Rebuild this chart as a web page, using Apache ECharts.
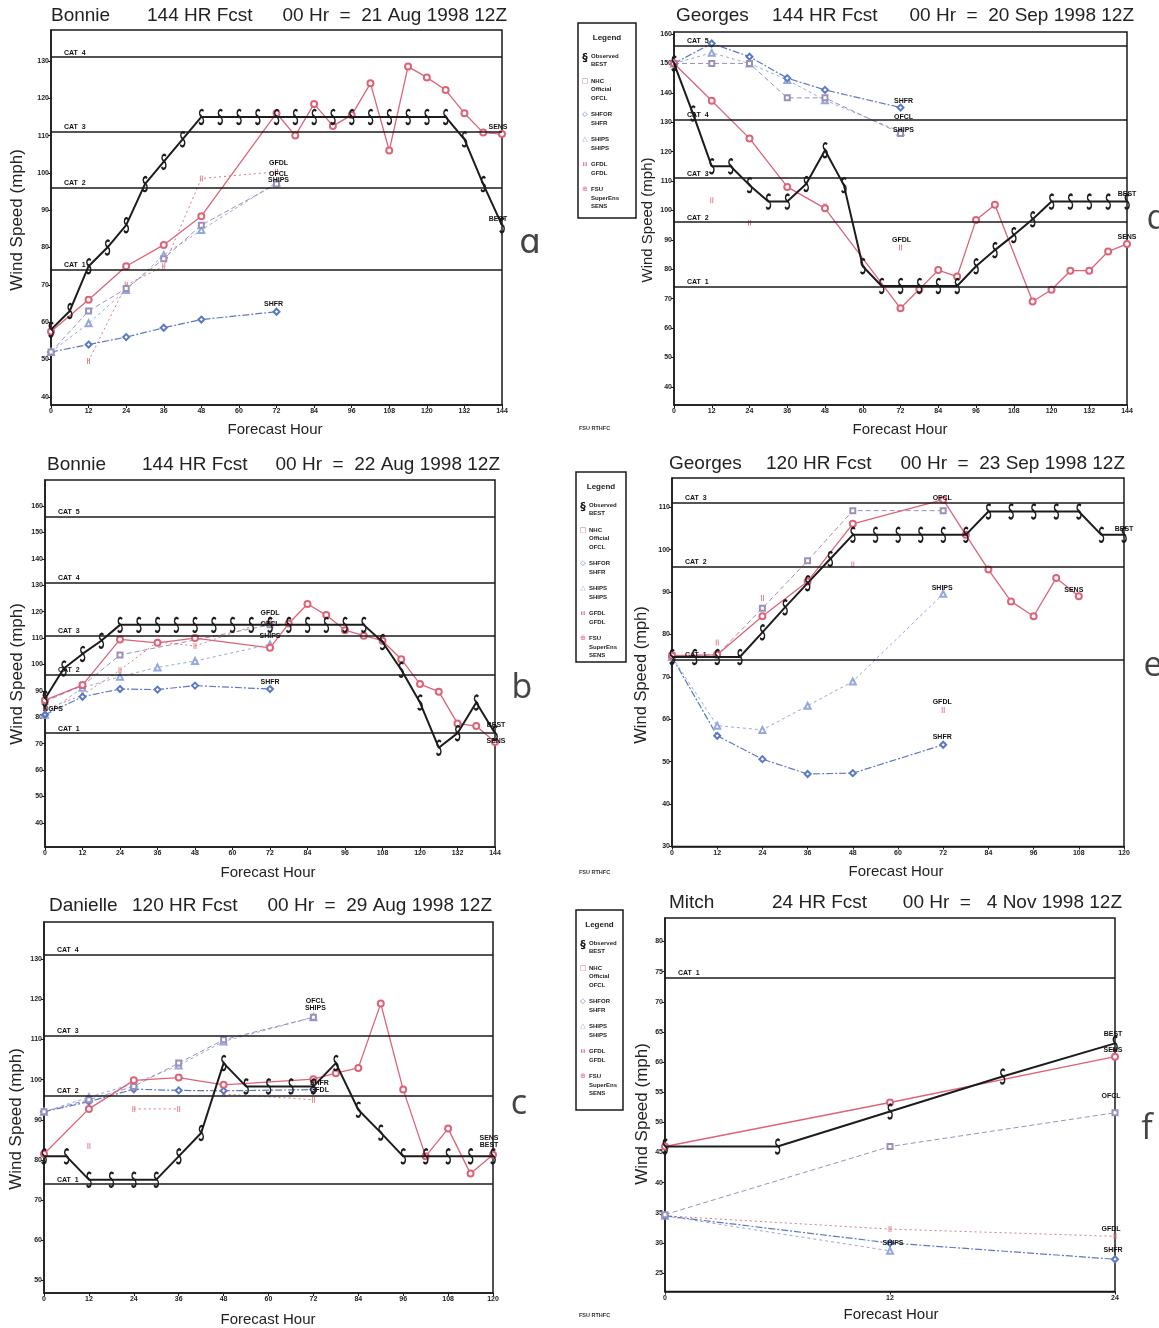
<!DOCTYPE html>
<html><head><meta charset="utf-8">
<script src="https://cdn.jsdelivr.net/npm/echarts@6/dist/echarts.min.js"></script>
<style>html,body{margin:0;padding:0;background:#fff}#c{width:1159px;height:1328px}</style>
</head><body><div id="c"></div>
<script>
// ---------------- DATA ----------------
const CAT_VALUES = [74, 96, 111, 131, 156];
const CAT_NAMES = ['CAT  1', 'CAT  2', 'CAT  3', 'CAT  4', 'CAT  5'];
const HOURS_144 = [0, 12, 24, 36, 48, 60, 72, 84, 96, 108, 120, 132, 144];
const HOURS_120 = [0, 12, 24, 36, 48, 60, 72, 84, 96, 108, 120];
const HOURS_24 = [0, 12, 24];

// (a) Bonnie 21 Aug
const A_YTICKS = [40, 50, 60, 70, 80, 90, 100, 110, 120, 130];
const A_BEST = [[0,58],[6,63],[12,75],[18,80],[24,86],[30,97],[36,103],[42,109],[48,115],[54,115],[60,115],[66,115],[72,115],[78,115],[84,115],[90,115],[96,115],[102,115],[108,115],[114,115],[120,115],[126,115],[132,109],[138,97],[144,86]];
const A_SENS = [[0,57.5],[12,66],[24,75],[36,80.7],[48,88.4],[72,116],[78,110],[84,118.5],[90,112.6],[96,115.5],[102,124],[108,106],[114,128.5],[120,125.6],[126,122.2],[132,116],[138,110.8],[144,110.4]];
const A_OFCL = [[0,52],[12,63],[24,69],[36,77],[48,86],[72,97]];
const A_SHFR = [[0,52],[12,54],[24,56],[36,58.5],[48,60.7],[72,62.8]];
const A_SHIPS = [[0,52],[12,59.7],[24,68.6],[36,78],[48,84.7],[72,97.4]];
const A_GFDL = [[12,49.6],[24,70],[36,75],[48,98.5],[72,100.3]];

// (d) Georges 20 Sep
const D_YTICKS = [40, 50, 60, 70, 80, 90, 100, 110, 120, 130, 140, 150, 160];
const D_BEST = [[0,150],[6,133],[12,115],[18,115],[24,108.6],[30,103],[36,103],[42,109],[48,120.5],[54,108.6],[60,81],[66,74.3],[72,74.3],[78,74.3],[84,74.3],[90,74.3],[96,81],[102,86.5],[108,91.6],[114,97],[120,103],[126,103],[132,103],[138,103],[144,103]];
const D_SENS = [[0,150],[12,137.3],[24,124.5],[36,108],[48,100.7],[72,66.7],[78,73.2],[84,79.7],[90,77.5],[96,96.7],[102,101.9],[114,69],[120,73],[126,79.5],[132,79.5],[138,86],[144,88.6]];
const D_OFCL = [[0,150],[12,150],[24,150],[36,138.3],[48,138.3],[72,126.2]];
const D_SHFR = [[0,150],[12,156.8],[24,152.3],[36,145],[48,141],[72,135]];
const D_SHIPS = [[0,150],[12,153.6],[24,150],[36,144.4],[48,137.5],[72,126.8]];
const D_GFDL = [[12,103.5],[24,95.8],[48,101.5],[72,87.4]];

// (b) Bonnie 22 Aug
const B_YTICKS = [40, 50, 60, 70, 80, 90, 100, 110, 120, 130, 140, 150, 160];
const B_BEST = [[0,87],[6,98.5],[12,104],[18,109],[24,115],[30,115],[36,115],[42,115],[48,115],[54,115],[60,115],[66,115],[72,115],[78,115],[84,115],[90,115],[96,115],[102,115],[108,108.5],[114,98],[120,85.6],[126,68.5],[132,74],[138,85.6],[144,74]];
const B_SENS = [[0,86.5],[12,92.2],[24,109.5],[36,108.2],[48,110],[72,106.3],[78,115.5],[84,122.9],[90,118.7],[96,113],[102,110.9],[108,109],[114,102],[120,92.6],[126,89.7],[132,77.7],[138,76.7],[144,70.7]];
const B_OFCL = [[0,86],[12,92],[24,103.6],[72,115]];
const B_SHFR = [[0,81],[12,87.8],[24,90.7],[36,90.5],[48,92],[72,90.7]];
const B_SHIPS = [[0,81],[12,91.2],[24,95.4],[36,98.9],[48,101.3],[72,107.6]];
const B_GFDL = [[0,83],[12,88.4],[24,97.9],[36,108.6],[48,107],[72,116.8]];
const B_NGPS = [[0,81]];

// (e) Georges 23 Sep
const E_YTICKS = [30, 40, 50, 60, 70, 80, 90, 100, 110];
const E_BEST = [[0,74.7],[6,74.7],[12,74.7],[18,74.7],[24,80.5],[30,86.4],[36,92.1],[42,97.8],[48,103.5],[54,103.5],[60,103.5],[66,103.5],[72,103.5],[78,103.5],[84,109],[90,109],[96,109],[102,109],[108,109],[114,103.5],[120,103.5]];
const E_SENS = [[0,75],[12,75.2],[24,84.3],[36,92.5],[48,106.1],[72,111.8],[78,103.5],[84,95.3],[90,87.8],[96,84.3],[102,93.3],[108,89]];
const E_OFCL = [[0,75],[12,75.2],[24,86.2],[36,97.4],[48,109.2],[72,109.2]];
const E_SHFR = [[0,74.7],[12,56.1],[24,50.6],[36,47.1],[48,47.3],[72,54]];
const E_SHIPS = [[0,74.7],[12,58.5],[24,57.5],[36,63.2],[48,68.9],[72,89.6]];
const E_GFDL = [[12,78.1],[24,88.6],[48,96.5],[72,62.2]];

// (c) Danielle 29 Aug
const C_YTICKS = [50, 60, 70, 80, 90, 100, 110, 120, 130];
const C_BEST = [[0,80.9],[6,80.9],[12,75.1],[18,75.1],[24,75.1],[30,75.1],[36,80.9],[42,86.7],[48,104.1],[54,98.3],[60,98.3],[66,98.3],[72,98.3],[78,104.1],[84,92.5],[90,86.8],[96,80.9],[102,80.9],[108,80.9],[114,80.9],[120,80.9]];
const C_SENS = [[0,81.5],[12,92.7],[24,99.8],[36,100.5],[48,98.7],[72,100.1],[78,101.6],[84,102.9],[90,118.9],[96,97.5],[102,80.9],[108,87.8],[114,76.6],[120,81.3]];
const C_OFCL = [[0,92],[12,95],[24,98.3],[36,104.1],[48,109.9],[72,115.5]];
const C_SHFR = [[0,92],[12,94.5],[24,97.6],[36,97.3],[48,97.2],[72,97.5]];
const C_SHIPS = [[0,92],[12,95.6],[24,99],[36,103.5],[48,109.5],[72,115.5]];
const C_GFDL = [[12,83.5],[18,'-'],[24,92.7],[36,92.7],[42,'-'],[48,96.4],[72,95]];

// (f) Mitch 4 Nov
const F_YTICKS = [25, 30, 35, 40, 45, 50, 55, 60, 65, 70, 75, 80];
const F_BEST = [[0,46],[6,46],[12,51.8],[18,57.6],[24,63.1]];
const F_SENS = [[0,46],[12,53.3],[24,60.9]];
const F_OFCL = [[0,34.7],[12,46],[24,51.6]];
const F_SHFR = [[0,34.5],[12,30],[24,27.3]];
const F_SHIPS = [[0,34.5],[12,28.7]];
const F_GFDL = [[0,34.5],[12,32.3],[24,31.1]];

const LEGEND_ITEMS = [['Observed','BEST'],['NHC','Official','OFCL'],['SHFOR','SHFR'],['SHIPS','SHIPS'],['GFDL','GFDL'],['FSU','SuperEns','SENS']];

// ---------------- STYLE / LAYOUT ----------------
const S_PATH = 'path://M11,2 C8,-1 1,0 1,5 C1,10 11,9 11,15 C11,21 3,22 0,18';
const H_PATH = 'path://M0,0 L0,10 M5,0 L5,10';
const STYLE = {
  GFDL: {color:'#e07880', width:1, type:[2,3], symbol:H_PATH, size:[4,6], stroke:true},
  SHIPS:{color:'#93a9dc', width:1, type:[3,3], symbol:'emptyTriangle', size:6},
  SHFR: {color:'#5b7ac2', width:1.2, type:[7,2,2,2], symbol:'emptyDiamond', size:6},
  OFCL: {color:'#9d90b8', width:1, type:[5,3], symbol:'emptyRect', size:5},
  NGPS: {color:'#5b7ac2', width:1, type:'solid', symbol:'emptyDiamond', size:5},
  SENS: {color:'#dc6478', width:1.3, type:'solid', symbol:'emptyCircle', size:6},
  BEST: {color:'#1c1c1c', width:2, type:'solid', symbol:S_PATH, size:[8,14], stroke:true}
};
const ORDER = ['GFDL','SHIPS','SHFR','OFCL','NGPS','SENS','BEST'];

const PANELS = [
  {grid:{left:51,top:30,width:451,height:375}, x:[0,144], xt:HOURS_144, y:[37.8,138.3], yt:A_YTICKS,
   series:{BEST:A_BEST,SENS:A_SENS,OFCL:A_OFCL,SHFR:A_SHFR,SHIPS:A_SHIPS,GFDL:A_GFDL},
   labels:{SENS:[-4,-7],BEST:[-4,-6],GFDL:[2,-9],OFCL:[2,-10],SHIPS:[2,-3],SHFR:[-3,-8]}},
  {grid:{left:674,top:32,width:453,height:373}, x:[0,144], xt:HOURS_144, y:[33.8,160.7], yt:D_YTICKS,
   series:{BEST:D_BEST,SENS:D_SENS,OFCL:D_OFCL,SHFR:D_SHFR,SHIPS:D_SHIPS,GFDL:D_GFDL}, noLine:{GFDL:true},
   labels:{BEST:[0,-8],SENS:[0,-7],SHFR:[3,-6],OFCL:[3,-16],SHIPS:[3,-2],GFDL:[1,-7]}},
  {grid:{left:45,top:480,width:450,height:367}, x:[0,144], xt:HOURS_144, y:[30.9,169.85], yt:B_YTICKS,
   series:{BEST:B_BEST,SENS:B_SENS,OFCL:B_OFCL,SHFR:B_SHFR,SHIPS:B_SHIPS,GFDL:B_GFDL,NGPS:B_NGPS},
   labels:{BEST:[1,-8],SENS:[1,-1],GFDL:[0,-7],OFCL:[0,-1],SHIPS:[0,-8],SHFR:[0,-7],NGPS:[8,-6]}},
  {grid:{left:672,top:478,width:452,height:368.5}, x:[0,120], xt:HOURS_120, y:[30,116.9], yt:E_YTICKS,
   series:{BEST:E_BEST,SENS:E_SENS,OFCL:E_OFCL,SHFR:E_SHFR,SHIPS:E_SHIPS,GFDL:E_GFDL}, noLine:{GFDL:true},
   labels:{BEST:[0,-6],OFCL:[-1,-13],SHIPS:[-1,-6],GFDL:[-1,-8],SHFR:[-1,-8],SENS:[-5,-6]}},
  {grid:{left:44,top:922,width:449,height:371}, x:[0,120], xt:HOURS_120, y:[46.9,139.2], yt:C_YTICKS,
   series:{BEST:C_BEST,SENS:C_SENS,OFCL:C_OFCL,SHFR:C_SHFR,SHIPS:C_SHIPS,GFDL:C_GFDL},
   labels:{SENS:[-4,-17],BEST:[-4,-11],OFCL:[2,-16],SHIPS:[2,-9],SHFR:[6,-7],GFDL:[6,-10]}},
  {grid:{left:665,top:918,width:450,height:373.5}, x:[0,24], xt:HOURS_24, y:[21.95,83.9], yt:F_YTICKS,
   series:{BEST:F_BEST,SENS:F_SENS,OFCL:F_OFCL,SHFR:F_SHFR,SHIPS:F_SHIPS,GFDL:F_GFDL},
   labels:{BEST:[-2,-9],SENS:[-2,-7],OFCL:[-4,-17],GFDL:[-4,-7],SHFR:[-2,-9],SHIPS:[3,-8]}}
];

const TITLES = [
  {name:'Bonnie', nx:51, mid:'144 HR Fcst', mx:147, rest:'00 Hr  =  21 Aug 1998 12Z', rx:507, y:16},
  {name:'Georges', nx:676, mid:'144 HR Fcst', mx:772, rest:'00 Hr  =  20 Sep 1998 12Z', rx:1134, y:16},
  {name:'Bonnie', nx:47, mid:'144 HR Fcst', mx:142, rest:'00 Hr  =  22 Aug 1998 12Z', rx:500, y:465},
  {name:'Georges', nx:669, mid:'120 HR Fcst', mx:766, rest:'00 Hr  =  23 Sep 1998 12Z', rx:1125, y:464},
  {name:'Danielle', nx:49, mid:'120 HR Fcst', mx:132, rest:'00 Hr  =  29 Aug 1998 12Z', rx:492, y:906},
  {name:'Mitch', nx:669, mid:'24 HR Fcst', mx:772, rest:'00 Hr  =   4 Nov 1998 12Z', rx:1122, y:903}
];
const YTITLES = [[17,220,17],[648,220,15],[17,674,17],[641,675,16.5],[16,1119,17],[642,1114,17]];
const XTITLES = [[275,430],[900,430],[268,873],[896,872],[268,1320],[891,1315]];
const LETTERS = [['ɑ',530,243],['d',1157,219],['b',522,688],['e',1153,666],['c',519,1104],['f',1147,1129]];
const LEGENDS = [[578,23,58,195],[576,472,50,190],[576,910,47,200]];
const FSU = [[579,428],[579,872],[579,1315]];

// ---------------- BUILD ----------------
const FONT = "'Liberation Sans', Arial, sans-serif";
const grids = [], xAxes = [], yAxes = [], series = [], graphic = [];

PANELS.forEach((p, i) => {
  grids.push(Object.assign({show:true, borderColor:'#1a1a1a', borderWidth:1.5, containLabel:false, outerBoundsMode:'none'}, p.grid));
  xAxes.push({gridIndex:i, type:'value', min:p.x[0], max:p.x[1], interval:12,
    axisLine:{lineStyle:{color:'#1a1a1a', width:1.5}}, splitLine:{show:false},
    axisTick:{length:3, lineStyle:{color:'#1a1a1a'}},
    axisLabel:{fontSize:7, fontWeight:'bold', color:'#222', margin:3, fontFamily:FONT}});
  yAxes.push({gridIndex:i, type:'value', min:p.y[0], max:p.y[1],
    axisLine:{show:true, lineStyle:{color:'#1a1a1a', width:1.5}}, splitLine:{show:false},
    axisTick:{show:true, length:3, customValues:p.yt, lineStyle:{color:'#1a1a1a'}},
    axisLabel:{customValues:p.yt, fontSize:7, fontWeight:'bold', color:'#222', margin:2, fontFamily:FONT}});
  ORDER.forEach(name => {
    const arr = p.series[name];
    if (!arr) return;
    const st = STYLE[name];
    const lab = p.labels[name];
    const data = arr.map((pt, k) => {
      const d = {value: pt};
      if (lab && k === arr.length - 1) {
        d.label = {show:true, position:'inside', offset:lab, formatter:name, fontSize:7, fontWeight:'bold',
                   color:'#111', fontFamily:FONT};
      }
      return d;
    });
    const s = {
      type:'line', name:name, xAxisIndex:i, yAxisIndex:i, data:data, z: name==='BEST'?5:3,
      symbol:st.symbol, symbolSize:st.size, symbolKeepAspect:true, connectNulls:false,
      lineStyle:{color:st.color, width:st.width, type:st.type, opacity:(p.noLine&&p.noLine[name])?0:1},
      itemStyle: st.stroke ? {color:'rgba(0,0,0,0)', borderColor:st.color, borderWidth: name==='BEST'?1.8:1.1}
                           : {color:st.color, borderColor:st.color, borderWidth:1},
      label:{show:false}, emphasis:{disabled:true}, animation:false, silent:true
    };
    if (name === 'BEST') {
      const cats = [];
      CAT_VALUES.forEach((v, k) => { if (v > p.y[0] && v < p.y[1]) cats.push({yAxis:v, name:CAT_NAMES[k]}); });
      s.markLine = {silent:true, symbol:['none','none'], animation:false,
        lineStyle:{color:'#1a1a1a', width:1.6, type:'solid'},
        label:{show:true, position:'insideStartTop', formatter:'{b}', fontSize:7, fontWeight:'bold', color:'#111',
               distance:[13,1], fontFamily:FONT},
        emphasis:{disabled:true}, data:cats};
    }
    series.push(s);
  });
});

function txt(x, y, text, font, align, rot, fill) {
  return {type:'text', x:x, y:y, rotation:rot||0, silent:true, z:10,
    style:{text:text, font:font, fill:fill||'#222', align:align||'left', textAlign:align||'left',
           verticalAlign:'middle', textVerticalAlign:'middle'}};
}
TITLES.forEach(t => {
  graphic.push(txt(t.nx, t.y, t.name, '19px ' + FONT, 'left'));
  graphic.push(txt(t.mx, t.y, t.mid, '19px ' + FONT, 'left'));
  graphic.push(txt(t.rx, t.y, t.rest, '19px ' + FONT, 'right'));
});
YTITLES.forEach(t => graphic.push(txt(t[0], t[1], 'Wind Speed (mph)', t[2] + 'px ' + FONT, 'center', Math.PI/2)));
XTITLES.forEach(t => graphic.push(txt(t[0], t[1], 'Forecast Hour', '15px ' + FONT, 'center')));
LETTERS.forEach(t => graphic.push(txt(t[1], t[2], t[0], '34px "Open Sans", "DejaVu Sans", sans-serif', 'center', 0, '#444')));
FSU.forEach(t => graphic.push(txt(t[0], t[1], 'FSU RTHFC', 'bold 5.5px ' + FONT, 'left', 0, '#333')));

const LEG_SYM = [['§','bold 11px "DejaVu Sans"','#111'],['□','7px "DejaVu Sans"','#c07090'],['◇','7px "DejaVu Sans"','#5b7ac2'],
                 ['△','7px "DejaVu Sans"','#93a9dc'],['ıı','bold 7px "DejaVu Sans"','#e07880'],['⊕','7px "DejaVu Sans"','#dc6478']];
LEGENDS.forEach(L => {
  const [x, y, w, h] = L;
  graphic.push({type:'rect', shape:{x:x, y:y, width:w, height:h}, silent:true, z:9,
    style:{fill:'#fff', stroke:'#1a1a1a', lineWidth:1.5}});
  graphic.push(txt(x + w/2, y + 15, 'Legend', 'bold 8px ' + FONT, 'center'));
  let cy = y + 33;
  LEGEND_ITEMS.forEach((item, k) => {
    graphic.push(txt(x + 7, cy + (k === 0 ? 2 : 0), LEG_SYM[k][0], LEG_SYM[k][1], 'center', 0, LEG_SYM[k][2]));
    item.forEach((line, j) => graphic.push(txt(x + 13, cy + j * 8.7, line, 'bold 6px ' + FONT, 'left', 0, '#222')));
    cy += item.length * 8.7 + 7.5;
  });
});

const chart = echarts.init(document.getElementById('c'), null, {renderer:'canvas'});
chart.setOption({
  animation:false, backgroundColor:'#fff',
  grid:grids, xAxis:xAxes, yAxis:yAxes, series:series, graphic:graphic
});
</script></body></html>
